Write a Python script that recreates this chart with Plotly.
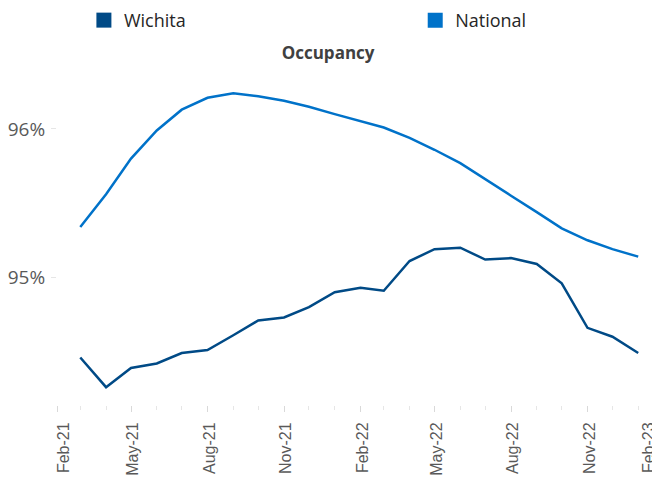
import plotly.graph_objects as go

months = ["2021-03-01", "2021-04-01", "2021-05-01", "2021-06-01", "2021-07-01", "2021-08-01",
          "2021-09-01", "2021-10-01", "2021-11-01", "2021-12-01", "2022-01-01", "2022-02-01",
          "2022-03-01", "2022-04-01", "2022-05-01", "2022-06-01", "2022-07-01", "2022-08-01",
          "2022-09-01", "2022-10-01", "2022-11-01", "2022-12-01", "2023-01-01"]
wichita = [94.46, 94.26, 94.39, 94.42, 94.49, 94.51, 94.61, 94.71, 94.73, 94.80, 94.90, 94.93,
           94.91, 95.11, 95.19, 95.20, 95.12, 95.13, 95.09, 94.96, 94.66, 94.60, 94.49]
national = [95.34, 95.56, 95.80, 95.99, 96.13, 96.21, 96.24, 96.22, 96.19, 96.15, 96.10, 96.05,
            96.01, 95.94, 95.86, 95.77, 95.66, 95.55, 95.44, 95.33, 95.25, 95.19, 95.14]
first_tick_val = ["2021-02-01"]
first_tick_text = ["Feb-21"]
tick_vals = ["2021-05-01", "2021-08-01", "2021-11-01", "2022-02-01",
             "2022-05-01", "2022-08-01", "2022-11-01"]
tick_text = ["May-21", "Aug-21", "Nov-21", "Feb-22", "May-22", "Aug-22", "Nov-22"]
last_tick_val = ["2023-02-01"]
last_tick_text = ["Feb-23"]
y_vals = [95, 96]
y_text = ["95%", "96%"]

C_WICHITA = "#004A86"
C_NATIONAL = "#0072C9"

fig = go.Figure()
fig.add_trace(go.Scatter(x=months, y=wichita, mode="lines", name="Wichita",
                         line=dict(color=C_WICHITA, width=2.5), showlegend=False))
fig.add_trace(go.Scatter(x=months, y=national, mode="lines", name="National",
                         line=dict(color=C_NATIONAL, width=2.5), showlegend=False))
# legend entries (square swatches)
fig.add_trace(go.Scatter(x=[None], y=[None], mode="markers", name="Wichita", legend="legend",
                         xaxis="x3", marker=dict(symbol="square", size=15, color=C_WICHITA)))
fig.add_trace(go.Scatter(x=[None], y=[None], mode="markers", name="National", legend="legend2",
                         xaxis="x2", marker=dict(symbol="square", size=15, color=C_NATIONAL)))

leg_font = dict(family="Open Sans", size=18, color="#262626")
tick_font = dict(family="Liberation Sans", size=16, color="#595959")
common_x = dict(type="date", automargin=False, tickmode="array", tickangle=-90,
                ticks="outside", ticklen=6, tickcolor="#D9D9D9", ticklabelstandoff=4,
                showgrid=False, zeroline=False, showline=False, tickfont=tick_font)

fig.update_layout(
    width=660, height=478,
    margin=dict(l=49, r=4, t=72, b=81, autoexpand=False),
    paper_bgcolor="white", plot_bgcolor="white",
    font=dict(family="Open Sans", color="#595959"),
    title=dict(text="<b>Occupancy</b>", x=0.485, xanchor="center", y=0.906, yanchor="middle",
               font=dict(family="Open Sans", size=17, color="#404040")),
    legend=dict(orientation="h", x=0.115, xanchor="left", y=0.974, yanchor="middle",
                yref="container", xref="container",
                font=leg_font, itemwidth=30, bgcolor="rgba(0,0,0,0)"),
    legend2=dict(orientation="h", x=0.617, xanchor="left", y=0.974, yanchor="middle",
                 yref="container", xref="container",
                 font=leg_font, itemwidth=30, bgcolor="rgba(0,0,0,0)"),
    xaxis=dict(**common_x, range=["2021-02-01", "2023-02-01"],
               tickvals=tick_vals, ticktext=tick_text, ticklabelshift=2,
               minor=dict(dtick="M1", ticks="outside", ticklen=4, tickcolor="#E6E6E6", showgrid=False)),
    xaxis2=dict(**common_x, overlaying="x", matches="x", anchor="y", side="bottom",
                tickvals=last_tick_val, ticktext=last_tick_text, ticklabelshift=-15),
    xaxis3=dict(**common_x, overlaying="x", matches="x", anchor="y", side="bottom",
                tickvals=first_tick_val, ticktext=first_tick_text, ticklabelshift=7),
    yaxis=dict(range=[94.14, 96.33], tickmode="array", tickvals=y_vals, ticktext=y_text,
               automargin=False,
               ticks="outside", ticklen=5, tickcolor="#E6E6E6", ticklabelstandoff=2,
               showgrid=False, zeroline=False, showline=False,
               tickfont=dict(family="Open Sans", size=19, color="#595959")),
)

fig.write_html("out.html")
